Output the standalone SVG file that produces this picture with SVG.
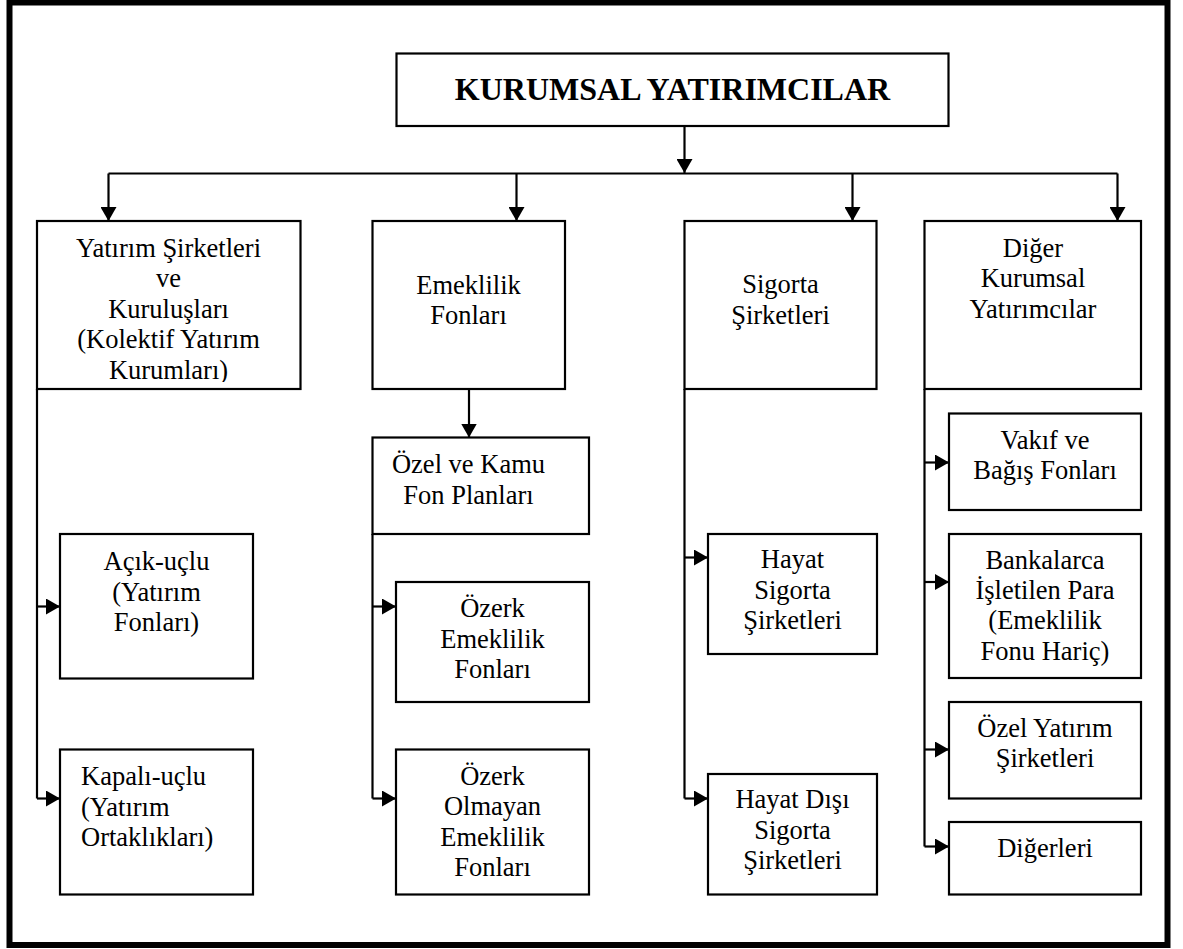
<svg xmlns="http://www.w3.org/2000/svg" width="1183" height="949" viewBox="0 0 1183 949">
<style>
.box{fill:#fff;stroke:#000;stroke-width:2.2}
.t{font-family:"Liberation Serif","Times New Roman",serif;font-size:26.5px;fill:#000;text-anchor:middle}
.tl{text-anchor:start}
.title{font-family:"Liberation Serif","Times New Roman",serif;font-size:32px;font-weight:bold;fill:#000;text-anchor:middle}
.c{fill:none;stroke:#000;stroke-width:2.2}
.ca{fill:none;stroke:#000;stroke-width:2.2;marker-end:url(#ah)}
</style>
<defs>
<marker id="ah" markerUnits="userSpaceOnUse" markerWidth="14" markerHeight="16" viewBox="0 0 14 16" refX="14" refY="8" orient="auto"><path d="M0,0L14,8L0,16z" fill="#000"/></marker>
<clipPath id="clip1"><rect x="36" y="221" width="264" height="161"/></clipPath>
</defs>
<rect x="0" y="0" width="1183" height="949" fill="#fff"/>
<rect x="9.5" y="2.5" width="1158" height="942.5" fill="none" stroke="#000" stroke-width="6"/>

<g id="connectors">
<path class="ca" d="M684.5,126V173"/>
<path class="c" d="M108.5,173.5H1117.5"/>
<path class="ca" d="M108.5,173.5V221"/>
<path class="ca" d="M516.5,173.5V221"/>
<path class="ca" d="M852.5,173.5V221"/>
<path class="ca" d="M1117.5,173.5V221"/>
<path class="c" d="M37,389V798.5"/>
<path class="ca" d="M37,606.5H60"/>
<path class="ca" d="M37,798.5H60"/>
<path class="ca" d="M469,389V437.5"/>
<path class="c" d="M372.5,534V798.5"/>
<path class="ca" d="M372.5,606.5H396"/>
<path class="ca" d="M372.5,798.5H396"/>
<path class="c" d="M684.5,389V798.5"/>
<path class="ca" d="M684.5,557.5H708"/>
<path class="ca" d="M684.5,798.5H708"/>
<path class="c" d="M924.5,389V846.5"/>
<path class="ca" d="M924.5,462.5H949"/>
<path class="ca" d="M924.5,582H949"/>
<path class="ca" d="M924.5,749.5H949"/>
<path class="ca" d="M924.5,846.5H949"/>
</g>

<g id="n-root">
<rect class="box" x="396.5" y="53.5" width="552" height="72.5"/>
<text class="title" x="672.5" y="100">KURUMSAL YATIRIMCILAR</text>
</g>

<g id="n-yatirim">
<rect class="box" x="37" y="221" width="263.5" height="168"/>
<g clip-path="url(#clip1)">
<text class="t" x="168.5" y="257">Yatırım Şirketleri</text>
<text class="t" x="168.5" y="287.3">ve</text>
<text class="t" x="168.5" y="317.6">Kuruluşları</text>
<text class="t" x="168.5" y="347.9">(Kolektif Yatırım</text>
<text class="t" x="168.5" y="378.5">Kurumları)</text>
</g>
</g>

<g id="n-emeklilik">
<rect class="box" x="372.5" y="221" width="192.5" height="168"/>
<text class="t" x="468.5" y="294">Emeklilik</text>
<text class="t" x="468.5" y="324.3">Fonları</text>
</g>

<g id="n-sigorta">
<rect class="box" x="684.5" y="221" width="192" height="168"/>
<text class="t" x="780.5" y="293">Sigorta</text>
<text class="t" x="780.5" y="323.5">Şirketleri</text>
</g>

<g id="n-diger">
<rect class="box" x="924.5" y="221" width="216.5" height="168"/>
<text class="t" x="1033" y="257">Diğer</text>
<text class="t" x="1033" y="287.3">Kurumsal</text>
<text class="t" x="1033" y="317.6">Yatırımcılar</text>
</g>

<g id="n-acik">
<rect class="box" x="60" y="534" width="193" height="144.5"/>
<text class="t" x="156.5" y="570">Açık-uçlu</text>
<text class="t" x="156.5" y="600.5">(Yatırım</text>
<text class="t" x="156.5" y="631">Fonları)</text>
</g>

<g id="n-kapali">
<rect class="box" x="60" y="749.5" width="193" height="145"/>
<text class="t tl" x="81" y="785.2">Kapalı-uçlu</text>
<text class="t tl" x="81" y="815.8">(Yatırım</text>
<text class="t tl" x="81" y="846.4">Ortaklıkları)</text>
</g>

<g id="n-ozelkamu">
<rect class="box" x="372.5" y="437.5" width="216.5" height="96.5"/>
<text class="t" x="468.5" y="472.6">Özel ve Kamu</text>
<text class="t" x="468.5" y="504">Fon Planları</text>
</g>

<g id="n-ozerk">
<rect class="box" x="396" y="582" width="193" height="120"/>
<text class="t" x="492.5" y="617">Özerk</text>
<text class="t" x="492.5" y="647.7">Emeklilik</text>
<text class="t" x="492.5" y="678.4">Fonları</text>
</g>

<g id="n-ozerkolmayan">
<rect class="box" x="396" y="749.5" width="193" height="145"/>
<text class="t" x="492.5" y="784.5">Özerk</text>
<text class="t" x="492.5" y="815.2">Olmayan</text>
<text class="t" x="492.5" y="845.9">Emeklilik</text>
<text class="t" x="492.5" y="876.4">Fonları</text>
</g>

<g id="n-hayat">
<rect class="box" x="708" y="534" width="169" height="120"/>
<text class="t" x="792.5" y="568">Hayat</text>
<text class="t" x="792.5" y="598.7">Sigorta</text>
<text class="t" x="792.5" y="629.3">Şirketleri</text>
</g>

<g id="n-hayatdisi">
<rect class="box" x="708" y="774" width="169" height="120.5"/>
<text class="t" x="792.5" y="808">Hayat Dışı</text>
<text class="t" x="792.5" y="838.7">Sigorta</text>
<text class="t" x="792.5" y="869.2">Şirketleri</text>
</g>

<g id="n-vakif">
<rect class="box" x="949" y="413.5" width="192" height="96.5"/>
<text class="t" x="1045" y="449">Vakıf ve</text>
<text class="t" x="1045" y="479.3">Bağış Fonları</text>
</g>

<g id="n-bankalarca">
<rect class="box" x="949" y="534" width="192" height="144"/>
<text class="t" x="1045" y="568.5">Bankalarca</text>
<text class="t" x="1045" y="599">İşletilen Para</text>
<text class="t" x="1045" y="629.3">(Emeklilik</text>
<text class="t" x="1045" y="659.6">Fonu Hariç)</text>
</g>

<g id="n-ozelyatirim">
<rect class="box" x="949" y="702" width="192" height="96.5"/>
<text class="t" x="1045" y="736.8">Özel Yatırım</text>
<text class="t" x="1045" y="767">Şirketleri</text>
</g>

<g id="n-digerleri">
<rect class="box" x="949" y="822" width="192" height="72.5"/>
<text class="t" x="1045" y="857">Diğerleri</text>
</g>
</svg>
